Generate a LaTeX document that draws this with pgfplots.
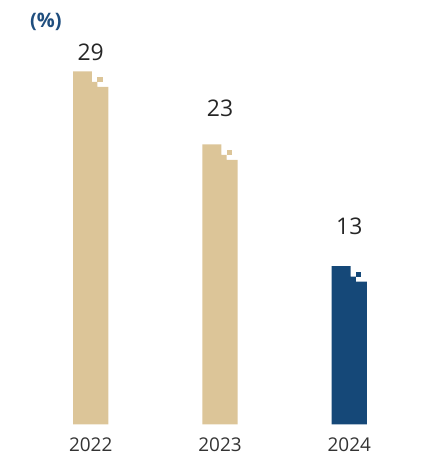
\documentclass[border=0pt]{standalone}
\usepackage{pgfplots}
\pgfplotsset{compat=1.18}
\usepackage{fontspec}
\setmainfont{Open Sans}
\definecolor{tan}{HTML}{DCC598}
\definecolor{navy}{HTML}{154878}
\definecolor{lbl}{HTML}{1F4E7E}
\definecolor{txt}{HTML}{333333}
\begin{document}
\begin{tikzpicture}
\begin{axis}[
    scale only axis,
    width=427bp, height=460bp,
    xmin=-0.7015, xmax=2.601,
    ymin=-2.93, ymax=34.86,
    axis line style={draw=none},
    tick style={draw=none},
    ytick=\empty,
    xtick={0,1,2},
    xticklabels={2022,2023,2024},
    xticklabel style={anchor=base, inner sep=0pt, yshift=8.6bp, font=\fontsize{19}{22}\selectfont, text=txt},
    /pgf/number format/assume math mode=true,
    clip=false,
]
% 2022: 29
\addplot[fill=tan, draw=none] coordinates {(-0.1365,0) (-0.1365,29) (0.010,29) (0.010,28.137) (0.051,28.137) (0.051,27.726) (0.1365,27.726) (0.1365,0)} -- cycle;
\addplot[fill=tan, draw=none] coordinates {(0.051,28.137) (0.093,28.137) (0.093,28.548) (0.051,28.548)} -- cycle;
% 2023: 23
\addplot[fill=tan, draw=none] coordinates {(0.8635,0) (0.8635,23) (1.010,23) (1.010,22.137) (1.051,22.137) (1.051,21.726) (1.1365,21.726) (1.1365,0)} -- cycle;
\addplot[fill=tan, draw=none] coordinates {(1.051,22.137) (1.093,22.137) (1.093,22.548) (1.051,22.548)} -- cycle;
% 2024: 13
\addplot[fill=navy, draw=none] coordinates {(1.8635,0) (1.8635,13) (2.010,13) (2.010,12.137) (2.051,12.137) (2.051,11.726) (2.1365,11.726) (2.1365,0)} -- cycle;
\addplot[fill=navy, draw=none] coordinates {(2.051,12.137) (2.093,12.137) (2.093,12.548) (2.051,12.548)} -- cycle;
% value labels
\addplot[draw=none, mark=none, point meta=explicit, nodes near coords,
    every node near coord/.style={anchor=base, inner sep=0pt, font=\fontsize{23}{26}\selectfont, text=black!85}]
    coordinates {(0,29.85) [29] (1,25.28) [23] (2,15.61) [13]};
\node[font=\bfseries\fontsize{20}{23}\selectfont, text=lbl] at (axis cs:-0.346,33.06) {(\%)};
\end{axis}
\pgfresetboundingbox
\useasboundingbox (current axis.south west) rectangle (current axis.north east);
\end{tikzpicture}
\end{document}
